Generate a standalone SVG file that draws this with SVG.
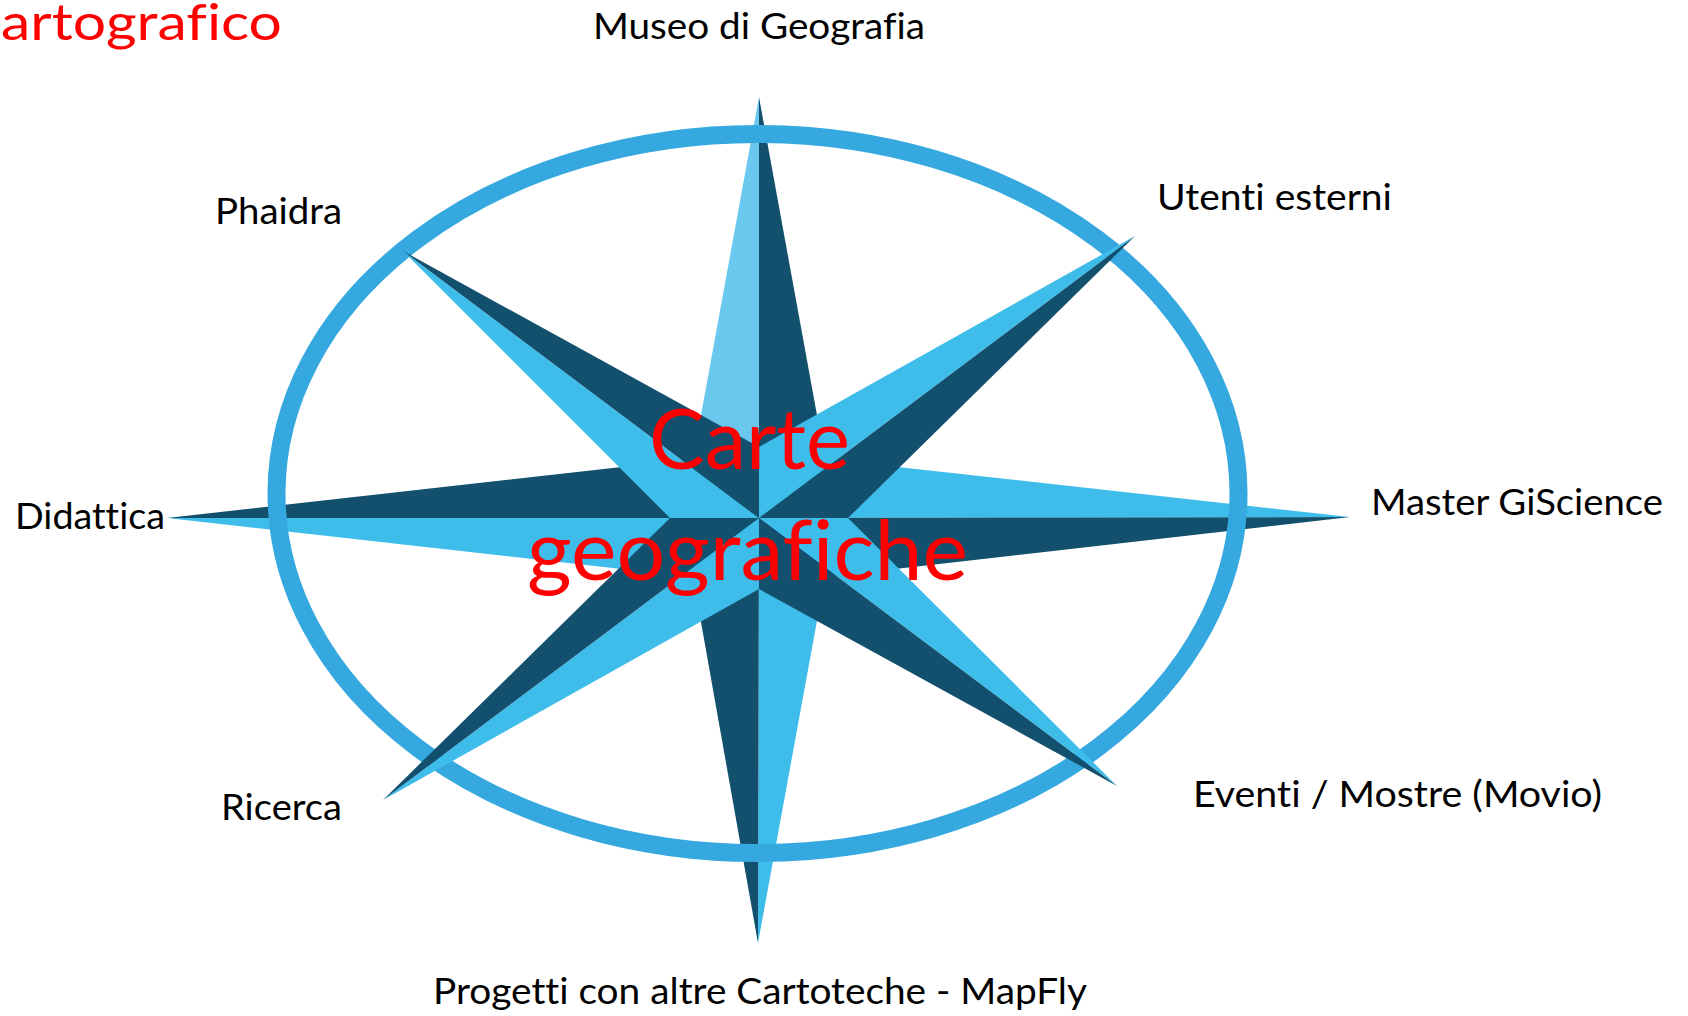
<svg xmlns="http://www.w3.org/2000/svg" width="1688" height="1016" viewBox="0 0 1688 1016">
  <style>
    text { font-variant-ligatures: none; font-feature-settings: "liga" 0, "clig" 0; }
    .lbl { font-family: Lato, "Liberation Sans", sans-serif; font-size: 36px; fill: #000000; }
    .red { font-family: Lato, "Liberation Sans", sans-serif; fill: #FF0000; }
    .dk { fill: #12506E; }
    .lt { fill: #3EBDEB; }
    .lt2 { fill: #6AC7EE; }
    .ring { fill: none; stroke: #35A8DF; stroke-width: 18; }
  </style>
  <rect width="1688" height="1016" fill="#FFFFFF"/>
  <g id="title">
    <text class="red" x="1" y="40" font-size="50" textLength="281" lengthAdjust="spacingAndGlyphs">artografico</text>
  </g>
  <g id="compass">
    <g id="cardinal-arms">
      <polygon class="lt2" points="759,97 693,459 759,518"/>
      <polygon class="dk" points="759,97 759,518 825,459"/>
      <polygon class="lt" points="1350,517 825,459 759,518"/>
      <polygon class="dk" points="1350,517 759,518 825,577"/>
      <polygon class="lt" points="758,943 825,577 759,518"/>
      <polygon class="dk" points="758,943 759,518 693,577"/>
      <polygon class="lt" points="167,518 693,577 759,518"/>
      <polygon class="dk" points="167,518 759,518 693,459"/>
    </g>
    <ellipse class="ring" cx="757.5" cy="493.5" rx="481" ry="359.5"/>
    <g id="diagonal-arms">
      <polygon class="lt" points="1135,236 759,447 759,518"/>
      <polygon class="dk" points="1135,236 759,518 848,518"/>
      <polygon class="lt" points="1117,786 848,518 759,518"/>
      <polygon class="dk" points="1117,786 759,518 759,589"/>
      <polygon class="lt" points="383,800 759,589 759,518"/>
      <polygon class="dk" points="383,800 759,518 670,518"/>
      <polygon class="lt" points="403,251 670,518 759,518"/>
      <polygon class="dk" points="403,251 759,518 759,447"/>
    </g>
  </g>
  <g id="center-label">
    <text class="red" x="649" y="469" font-size="83" textLength="201" lengthAdjust="spacingAndGlyphs">Carte</text>
    <text class="red" x="527" y="580" font-size="83" textLength="441" lengthAdjust="spacingAndGlyphs">geografiche</text>
  </g>
  <g id="node-museo"><text class="lbl" x="593" y="39" textLength="332" lengthAdjust="spacingAndGlyphs">Museo di Geografia</text></g>
  <g id="node-phaidra"><text class="lbl" x="215" y="224" textLength="127" lengthAdjust="spacingAndGlyphs">Phaidra</text></g>
  <g id="node-utenti"><text class="lbl" x="1157" y="210" textLength="235" lengthAdjust="spacingAndGlyphs">Utenti esterni</text></g>
  <g id="node-didattica"><text class="lbl" x="15" y="529" textLength="150" lengthAdjust="spacingAndGlyphs">Didattica</text></g>
  <g id="node-master"><text class="lbl" x="1371" y="515" textLength="292" lengthAdjust="spacingAndGlyphs">Master GiScience</text></g>
  <g id="node-ricerca"><text class="lbl" x="221" y="820" textLength="121" lengthAdjust="spacingAndGlyphs">Ricerca</text></g>
  <g id="node-eventi"><text class="lbl" x="1193" y="807" textLength="409" lengthAdjust="spacingAndGlyphs">Eventi / Mostre (Movio)</text></g>
  <g id="node-progetti"><text class="lbl" x="433" y="1004" textLength="654" lengthAdjust="spacingAndGlyphs">Progetti con altre Cartoteche - MapFly</text></g>
  <g id="connectors"/>
</svg>
